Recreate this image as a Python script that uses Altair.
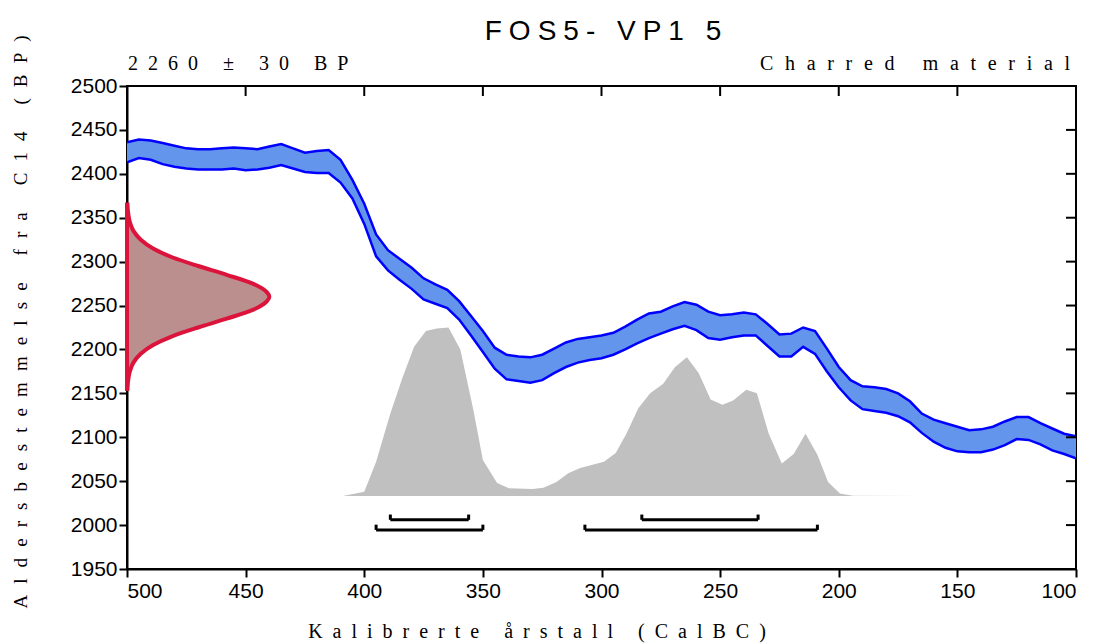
import altair as alt
import pandas as pd

# ---------------- texts ----------------
TITLE = "FOS5- VP1 5"
DATE_LABEL = "2260 ± 30 BP"
MATERIAL = "Charred material"
X_TITLE = "Kalibrerte årstall (CalBC)"
Y_TITLE = "Aldersbestemmelse fra C14 (BP)"

# ---------------- axes ----------------
X_TICKS = [500, 450, 400, 350, 300, 250, 200, 150, 100]
Y_TICKS = [1950, 2000, 2050, 2100, 2150, 2200, 2250, 2300, 2350, 2400, 2450, 2500]

# ---------------- calibration curve band (BC years, upper / lower BP) ----------------
cal_years = [500, 495, 490, 485, 480, 475, 470, 465, 460, 455, 450, 445, 440, 435, 430,
             425, 420, 415, 410, 405, 400, 395, 390, 385, 380, 375, 370, 365, 360, 355,
             350, 345, 340, 335, 330, 325, 320, 315, 310, 305, 300, 295, 290, 285, 280,
             275, 270, 265, 260, 255, 250, 245, 240, 235, 230, 225, 220, 215, 210, 205,
             200, 195, 190, 185, 180, 175, 170, 165, 160, 155, 150, 145, 140, 135, 130,
             125, 120, 115, 110, 105, 100]
cal_upper = [2436, 2439, 2438, 2435, 2432, 2429, 2428, 2428, 2429, 2430, 2429, 2428, 2431, 2434, 2429,
             2424, 2426, 2427, 2416, 2393, 2366, 2331, 2313, 2303, 2293, 2281, 2274, 2268, 2255, 2238,
             2221, 2202, 2194, 2192, 2191, 2194, 2201, 2208, 2212, 2214, 2216, 2219, 2226, 2234, 2241,
             2243, 2249, 2254, 2251, 2243, 2239, 2240, 2242, 2240, 2229, 2217, 2218, 2225, 2221, 2201,
             2180, 2165, 2158, 2157, 2155, 2150, 2141, 2127, 2120, 2116, 2112, 2108, 2109, 2112, 2118,
             2123, 2123, 2116, 2110, 2104, 2101]
cal_lower = [2413, 2418, 2416, 2411, 2408, 2406, 2405, 2405, 2405, 2406, 2404, 2405, 2407, 2410, 2406,
             2402, 2401, 2401, 2390, 2372, 2343, 2306, 2290, 2279, 2269, 2257, 2252, 2247, 2234, 2216,
             2197, 2178, 2166, 2164, 2162, 2165, 2173, 2180, 2185, 2188, 2190, 2194, 2200, 2207, 2213,
             2218, 2223, 2227, 2222, 2213, 2211, 2214, 2216, 2216, 2204, 2192, 2192, 2203, 2195, 2175,
             2157, 2142, 2132, 2130, 2128, 2124, 2117, 2105, 2095, 2088, 2084, 2083, 2083, 2086, 2091,
             2098, 2097, 2092, 2085, 2081, 2076]

# ---------------- measured radiocarbon age distribution (BP, width in years) ----------------
meas_bp = [2155, 2165, 2175, 2185, 2195, 2205, 2215, 2225, 2235, 2245, 2255, 2260,
           2265, 2275, 2285, 2295, 2305, 2315, 2325, 2335, 2345, 2355, 2365]
meas_width = [0.2, 0.5, 1.2, 2.7, 5.8, 11, 19, 30, 42, 53, 59, 60,
              59, 53, 42, 30, 19, 11, 5.8, 2.7, 1.2, 0.5, 0.2]
MEAS_BASE_YEAR = 500

# ---------------- calibrated probability distribution ----------------
post_years = [409, 400, 395, 389, 384, 379, 374, 369.5, 364.5, 359.5, 354, 350, 344, 339,
              329, 324.5, 319, 314, 309, 299, 294, 289.5, 284.5, 279.5, 274, 269, 264, 259,
              254, 249, 244.5, 239, 234.5, 229.5, 224, 219, 214, 209, 204.5, 199.5, 194, 165]
post_bp = [2033, 2038, 2072, 2127, 2167, 2203, 2221, 2224, 2225, 2200, 2131, 2074, 2048, 2042,
           2041, 2042.5, 2049, 2059, 2065, 2072, 2082, 2104, 2133, 2150, 2161, 2180, 2191, 2173,
           2143, 2137, 2142, 2154, 2150, 2104, 2070, 2081, 2104, 2080, 2049, 2036, 2033.5, 2033]
POST_BASE = 2033

# ---------------- probability ranges ----------------
r68_from = [389, 283]
r68_to = [356, 234]
r95_from = [395, 307]
r95_to = [350, 209]
R68_LEVEL = 2006
R95_LEVEL = 1994.5
BRACKET_TICK = 6

W, H = 949, 483

xs = alt.Scale(domain=[500, 100], nice=False, zero=False)
ys = alt.Scale(domain=[1950, 2500], nice=False, zero=False)
xax = alt.Axis(values=X_TICKS, format="d", title=None, grid=False, tickSize=8, tickWidth=2,
               domainWidth=2, domainColor="black", tickColor="black", labelColor="black",
               labelFont="Liberation Sans", labelFontSize=21, labelPadding=3)
yax = alt.Axis(values=Y_TICKS, format="d", title=None, grid=False, tickSize=8, tickWidth=2,
               domainWidth=2, domainColor="black", tickColor="black", labelColor="black",
               labelFont="Liberation Sans", labelFontSize=21, labelPadding=2)


def X(f):
    return alt.X(f, type="quantitative", scale=xs, axis=xax)


def Y(f):
    return alt.Y(f, type="quantitative", scale=ys, axis=yax)


def spaced(text, gap):
    return gap.join(text)


cal_df = pd.DataFrame({"year": cal_years, "bp": cal_upper, "bp2": cal_lower})
meas_df = pd.DataFrame({"bp": meas_bp, "w": meas_width})
post_df = pd.DataFrame({"year": post_years, "bp": post_bp})
post_df["bp2"] = POST_BASE

r68 = pd.DataFrame({"year": r68_from, "year2": r68_to})
r68["bp"] = R68_LEVEL
r95 = pd.DataFrame({"year": r95_from, "year2": r95_to})
r95["bp"] = R95_LEVEL
ends = pd.concat([
    pd.DataFrame({"year": r68_from + r68_to, "bp": R68_LEVEL}),
    pd.DataFrame({"year": r95_from + r95_to, "bp": R95_LEVEL}),
])
ends["bp2"] = ends["bp"] + BRACKET_TICK

post = alt.Chart(post_df).mark_area(color="#c0c0c0", clip=True).encode(
    x=X("year"), y=Y("bp"), y2="bp2")

band = alt.Chart(cal_df).mark_area(color="#6495ed", clip=True).encode(
    x=X("year"), y=Y("bp"), y2="bp2")
band_up = alt.Chart(cal_df).mark_line(color="#0000ff", strokeWidth=2.5, clip=True).encode(
    x=X("year"), y=Y("bp"))
band_lo = alt.Chart(cal_df).mark_line(color="#0000ff", strokeWidth=2.5, clip=True).encode(
    x=X("year"), y=Y("bp2"))

meas = alt.Chart(meas_df).transform_calculate(
    year=f"{MEAS_BASE_YEAR} - datum.w", year2=f"{MEAS_BASE_YEAR}"
).mark_area(orient="horizontal", interpolate="monotone", fill="#bc8f8f",
            stroke="#dc143c", strokeWidth=4).encode(
    y=Y("bp"), x=X("year"), x2="year2")

br68 = alt.Chart(r68).mark_rule(color="black", strokeWidth=3).encode(
    x=X("year"), x2="year2", y=Y("bp"))
br95 = alt.Chart(r95).mark_rule(color="black", strokeWidth=3).encode(
    x=X("year"), x2="year2", y=Y("bp"))
brend = alt.Chart(ends).mark_rule(color="black", strokeWidth=3).encode(
    x=X("year"), y=Y("bp"), y2="bp2")

top_ticks = alt.Chart(pd.DataFrame({"year": X_TICKS})).mark_rule(color="black", strokeWidth=2).encode(
    x=X("year"), y=alt.value(0), y2=alt.value(10))
right_ticks = alt.Chart(pd.DataFrame({"bp": Y_TICKS})).mark_rule(color="black", strokeWidth=2).encode(
    y=Y("bp"), x=alt.value(W - 10), x2=alt.value(W))


def label(text, x, y, font, size, align="center", angle=0):
    return alt.Chart(pd.DataFrame({"t": [text]})).mark_text(
        font=font, fontSize=size, align=align, baseline="alphabetic", angle=angle, color="black"
    ).encode(x=alt.value(x), y=alt.value(y), text="t:N")


t_title = label(spaced(TITLE, "\u2005"), 476, -46, "Liberation Sans", 28)
t_date = label(spaced(DATE_LABEL, "\u2002"), 1, -16, "Liberation Serif", 20, align="left")
t_mat = label(spaced(MATERIAL, "\u2002\u200a"), 943, -16, "Liberation Serif", 20, align="right")
t_x = label(spaced(X_TITLE, "\u2002"), 410, 552, "Liberation Serif", 20)
t_y = label(spaced(Y_TITLE, "\u2002\u200a"), -100, 236, "Liberation Serif", 19, angle=270)

chart = alt.layer(
    post, band, band_up, band_lo, meas, br68, br95, brend, top_ticks, right_ticks,
    t_title, t_date, t_mat, t_x, t_y
).properties(
    width=W, height=H,
    padding={"left": 119, "top": 78, "right": 10, "bottom": 74},
    autosize=alt.AutoSizeParams(type="none"),
    background="white",
).configure_view(stroke="black", strokeWidth=2)

chart.save("out.html", embed_options={"renderer": "svg", "actions": False})
